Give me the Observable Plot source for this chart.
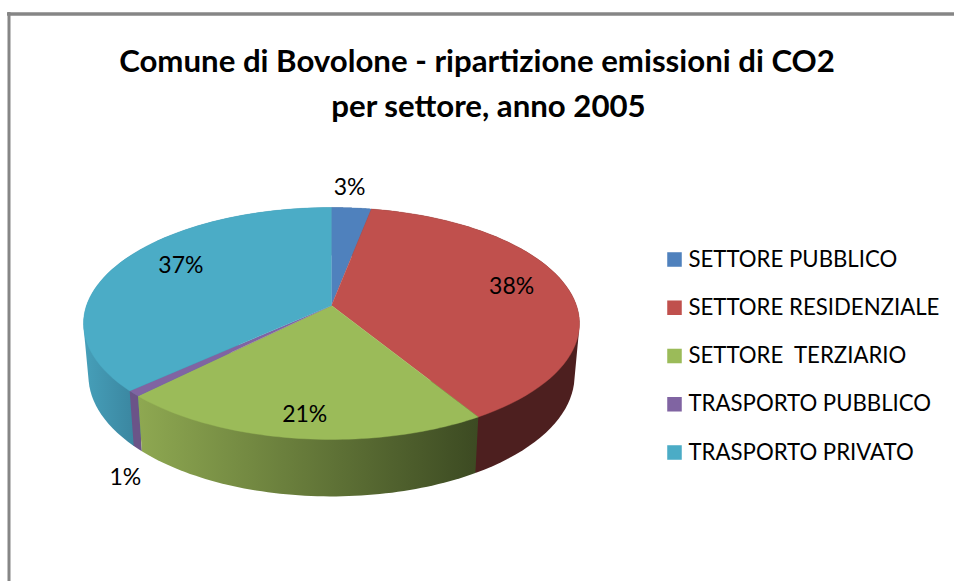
<!DOCTYPE html>
<html lang="it">
<head>
<meta charset="utf-8">
<script src="https://cdn.jsdelivr.net/npm/d3@7"></script>
<script src="https://cdn.jsdelivr.net/npm/@observablehq/plot@0.6"></script>
<style>
html,body{margin:0;padding:0;background:#fff;overflow:hidden}
svg{display:block}
</style>
</head>
<body>
<div id="chart"></div>
<script>
const titolo = ["Comune di Bovolone - ripartizione emissioni di CO2", "per settore, anno 2005"];
const settori = ["SETTORE PUBBLICO", "SETTORE RESIDENZIALE", "SETTORE  TERZIARIO", "TRASPORTO PUBBLICO", "TRASPORTO PRIVATO"];
const quote = [3.0, 38.3, 21.1, 0.8, 36.8];
const coloriTop = ["#4f81bd", "#c0504d", "#9bbb59", "#8064a2", "#4bacc6"];
const coloriSide = ["#3a5f8c", "#4d1f1f", "url(#sideGreen)", "#6b5488", "url(#sideTeal)"];

// pie projection (a tilted disc in perspective)
const W = 954, H = 581;
const cx = 331, cy = 305, A = 245, B = 113.2, k = 0.155;
const depth = 51.6, bottomX = 0.98, bottomY = 1.04;
const TAU = Math.PI * 2;
const font = "Lato, Carlito, 'Open Sans', sans-serif";

function project(f, r = 1) {
  const a = f / 100 * TAU, u = r * Math.sin(a), v = r * Math.cos(a), w = 1 + k * v;
  return [cx + A * u / w, cy - B * v / w];
}
function projectBottom(f) {
  const [x, y] = project(f);
  return [cx + (x - cx) * bottomX, cy + (y - cy) * bottomY + depth];
}

let acc = 0;
const slices = settori.map((settore, i) => {
  const start = acc; acc += quote[i];
  return {settore, i, valore: quote[i], start, end: acc, mid: (start + acc) / 2};
});
const rim = (s, fn) => d3.range(0, 61).map(j => fn(s.start + (s.end - s.start) * j / 60));

const topPoints = slices.flatMap(s =>
  [[cx, cy], ...rim(s, f => project(f))].map(([x, y]) => ({settore: s.settore, x, y})));
const sidePoints = s =>
  d3.polygonHull([...rim(s, f => project(f)), ...rim(s, projectBottom)]).map(([x, y]) => ({x, y}));

// percentage labels: radial placement plus a nudge
const labelR = [1.25, 0.75, 0.85, 1.2, 0.75];
const labelNudge = [[-6, 0], [3, -4], [1, -1], [37, 64], [10, -7]];
const labels = slices.map(s => {
  const [x, y] = project(s.mid, labelR[s.i]);
  return {text: Math.round(s.valore) + "%", x: x + labelNudge[s.i][0], y: y + labelNudge[s.i][1]};
});

const legendY = i => 259 + i * 48.25;
const legend = slices.map(s => ({settore: s.settore, x: 674, tx: 688, y: legendY(s.i)}));
const titleX = [476.5, 488];
const titleRows = titolo.map((t, i) => ({t, x: titleX[i], y: 62 + i * 45}));

const gradient = (id, x1, x2, c1, c2) => `<linearGradient id="${id}" gradientUnits="userSpaceOnUse" x1="${x1}" y1="0" x2="${x2}" y2="0"><stop offset="0" stop-color="${c1}"/><stop offset="1" stop-color="${c2}"/></linearGradient>`;
function defs() {
  const g = document.createElementNS("http://www.w3.org/2000/svg", "defs");
  g.innerHTML = gradient("sideGreen", 138, 478, "#8ea851", "#3c4a22") + gradient("sideTeal", 84, 132, "#469fb9", "#3b87a1");
  return g;
}

const sideOrder = [0, 4, 1, 3, 2];

const chart = Plot.plot({
  width: W, height: H,
  margin: 0,
  style: {background: "transparent", fontFamily: font},
  x: {domain: [0, W], range: [0, W], axis: null},
  y: {domain: [0, H], range: [0, H], axis: null},
  color: {domain: settori, range: coloriTop},
  marks: [
    defs,
    Plot.ruleY([13.5], {stroke: "#868686", strokeWidth: 3.5, x1: 7, x2: W}),
    Plot.ruleX([8.5], {stroke: "#868686", strokeWidth: 3, y1: 12, y2: H}),
    ...sideOrder.map(i => Plot.line(sidePoints(slices[i]), {x: "x", y: "y", fill: coloriSide[i], stroke: "none"})),
    Plot.line(topPoints, {x: "x", y: "y", z: "settore", fill: "settore", stroke: "settore", strokeWidth: 0.4}),
    Plot.text(titleRows, {x: "x", y: "y", text: "t", fontSize: 31.2, fontWeight: 700, fontFamily: font, fill: "#000", textAnchor: "middle"}),
    Plot.text(labels, {x: "x", y: "y", text: "text", fontSize: 23, fontFamily: font, fill: "#000", textAnchor: "middle"}),
    Plot.dot(legend, {x: "x", y: "y", symbol: "square", r: 8.2, fill: "settore", stroke: "none"}),
    Plot.text(legend, {x: "tx", y: "y", text: "settore", fontSize: 22.2, fontFamily: font, fill: "#000", textAnchor: "start"})
  ]
});
document.getElementById("chart").append(chart);
</script>
</body>
</html>
